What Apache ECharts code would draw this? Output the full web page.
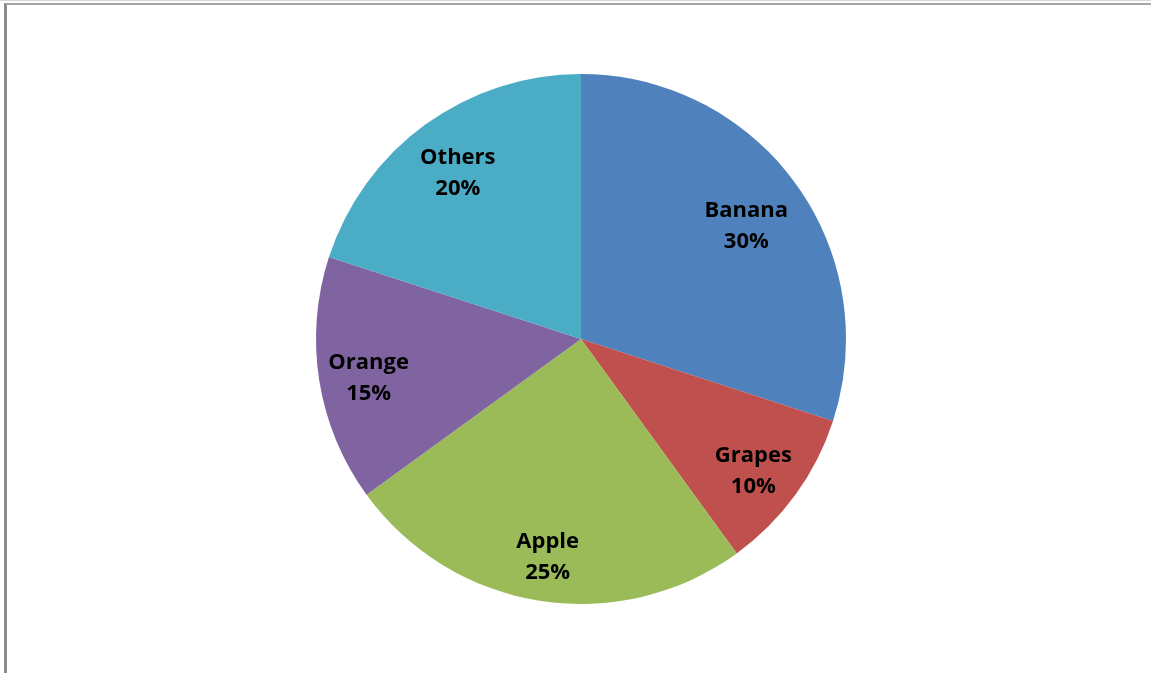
<!DOCTYPE html>
<html>
<head>
<meta charset="utf-8">
<script src="https://cdn.jsdelivr.net/npm/echarts@6/dist/echarts.min.js"></script>
<style>
html,body{margin:0;padding:0;background:#fff;}
#frame{position:absolute;left:0;top:0;width:1151px;height:673px;border-top:1px solid #d8d8d8;box-sizing:border-box;}
#frame2{position:absolute;left:4px;top:3px;width:1147px;height:670px;border-left:3px solid #8c8c8c;border-top:2px solid #a6a6a6;box-sizing:border-box;}
#chart{position:absolute;left:0;top:0;width:1151px;height:673px;}
</style>
</head>
<body>
<div id="frame"></div>
<div id="frame2"></div>
<div id="chart"></div>
<script>
const categories = ['Banana', 'Grapes', 'Apple', 'Orange', 'Others'];
const values = [30, 10, 25, 15, 20];
const colors = ['#4F81BD', '#C0504D', '#9BBB59', '#8064A2', '#4BACC6'];

const chart = echarts.init(document.getElementById('chart'), null, {renderer: 'canvas'});
const data = categories.map((c, i) => ({name: c, value: values[i], itemStyle: {color: colors[i]}}));
const center = [581, 339];
const labelOffsets = [[-7, 12], [0, 7], [0, 8], [-2, 6], [2, 7]];
chart.setOption({
  animation: false,
  backgroundColor: 'transparent',
  series: [
    {
      type: 'pie',
      center: center,
      radius: [0, 265],
      startAngle: 90,
      clockwise: true,
      silent: true,
      label: {show: false},
      labelLine: {show: false},
      itemStyle: {borderWidth: 0},
      data: data
    },
    {
      type: 'pie',
      center: center,
      radius: [155, 265],
      startAngle: 90,
      clockwise: true,
      silent: true,
      itemStyle: {color: 'transparent', borderWidth: 0},
      label: {
        show: true,
        position: 'inside',
        formatter: p => p.name + '\n' + p.value + '%',
        color: '#000',
        fontFamily: '"Open Sans", sans-serif',
        fontWeight: 'bold',
        fontSize: 22,
        lineHeight: 31,
        align: 'center'
      },
      labelLine: {show: false},
      data: categories.map((c, i) => ({name: c, value: values[i], label: {offset: labelOffsets[i]}}))
    }
  ]
});
</script>
</body>
</html>
